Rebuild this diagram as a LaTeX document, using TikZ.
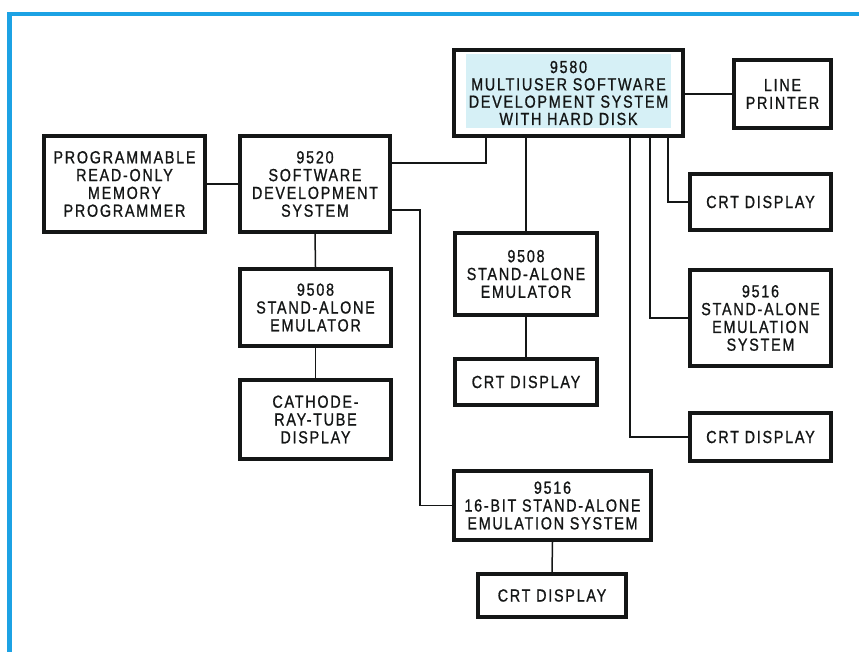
\documentclass[tikz,border=0pt]{standalone}
\usepackage{fontspec}
\newfontfamily\boxfont{Liberation Sans}[FakeStretch=0.82,LetterSpace=10,FakeBold=0.9]
\definecolor{frameblue}{RGB}{28,162,228}
\definecolor{lightcyan}{RGB}{214,240,246}
\definecolor{ink}{RGB}{20,22,22}
\begin{document}
\begin{tikzpicture}[x=1pt,y=-1pt,
  box/.style={draw=ink, line width=4pt, fill=white, align=center, inner sep=0pt,
    text=ink, font=\boxfont\fontsize{17.5}{17.8}\selectfont},
  wire/.style={draw=ink, line width=1.5pt}]
\useasboundingbox (0,0) rectangle (859,652);
% frame
\draw[frameblue, line width=4.5pt] (9.5,652) -- (9.5,14) -- (859,14);
% boxes
\node[box, minimum width=161, minimum height=96] (prom) at (124.5,184) {PROGRAMMABLE\\READ-ONLY\\MEMORY\\PROGRAMMER};
\node[box, minimum width=150, minimum height=96] (n9520) at (315,184) {9520\\SOFTWARE\\DEVELOPMENT\\SYSTEM};
\node[box, minimum width=229, minimum height=86] (n9580) at (568.5,93) {};
\fill[lightcyan] (466,54) rectangle (671,128);
\node[align=center, inner sep=0pt, text=ink, font=\boxfont\fontsize{17.5}{17.3}\selectfont] (t9580) at (n9580.center) {9580\\MULTIUSER SOFTWARE\\DEVELOPMENT SYSTEM\\WITH HARD DISK};
\node[box, minimum width=97, minimum height=68] (lp) at (782.5,94) {LINE\\PRINTER};
\node[box, minimum width=141, minimum height=56] (crta) at (760.5,202) {CRT DISPLAY};
\node[box, minimum width=141, minimum height=96] (n9516r) at (760.5,318) {9516\\STAND-ALONE\\EMULATION\\SYSTEM};
\node[box, minimum width=141, minimum height=48] (crtb) at (760.5,437) {CRT DISPLAY};
\node[box, minimum width=142, minimum height=82] (n9508m) at (526,274) {9508\\STAND-ALONE\\EMULATOR};
\node[box, minimum width=142, minimum height=46] (crtm) at (526,382) {CRT DISPLAY};
\node[box, minimum width=151, minimum height=77] (n9508l) at (315.5,307.5) {9508\\STAND-ALONE\\EMULATOR};
\node[box, minimum width=151, minimum height=79] (cath) at (315.5,419.5) {CATHODE-\\RAY-TUBE\\DISPLAY};
\node[box, minimum width=197, minimum height=69] (n9516b) at (552.5,505.5) {9516\\16-BIT STAND-ALONE\\EMULATION SYSTEM};
\node[box, minimum width=148, minimum height=43] (crtc) at (552,595.5) {CRT DISPLAY};
% connectors
\draw[wire] (prom.east) -- (n9520.west);
\draw[wire] (n9520.east |- 0,163) -| (n9580.south -| 486,0);
\draw[wire] (n9520.east |- 0,210) -| (420,0 |- n9516b.west) -- (n9516b.west);
\draw[wire] (n9580.south -| n9508m.north) -- (n9508m.north);
\draw[wire] (n9508m.south) -- (crtm.north);
\draw[wire] (n9580.south -| 630,0) |- (crtb.west);
\draw[wire] (n9580.south -| 650,0) |- (n9516r.west);
\draw[wire] (n9580.south -| 668,0) |- (crta.west);
\draw[wire] (n9580.east |- lp.west) -- (lp.west);
\draw[wire] (n9520.south) -- (n9508l.north);
\draw[wire] (n9508l.south) -- (cath.north);
\draw[wire] (n9516b.south) -- (crtc.north);
\end{tikzpicture}
\end{document}
